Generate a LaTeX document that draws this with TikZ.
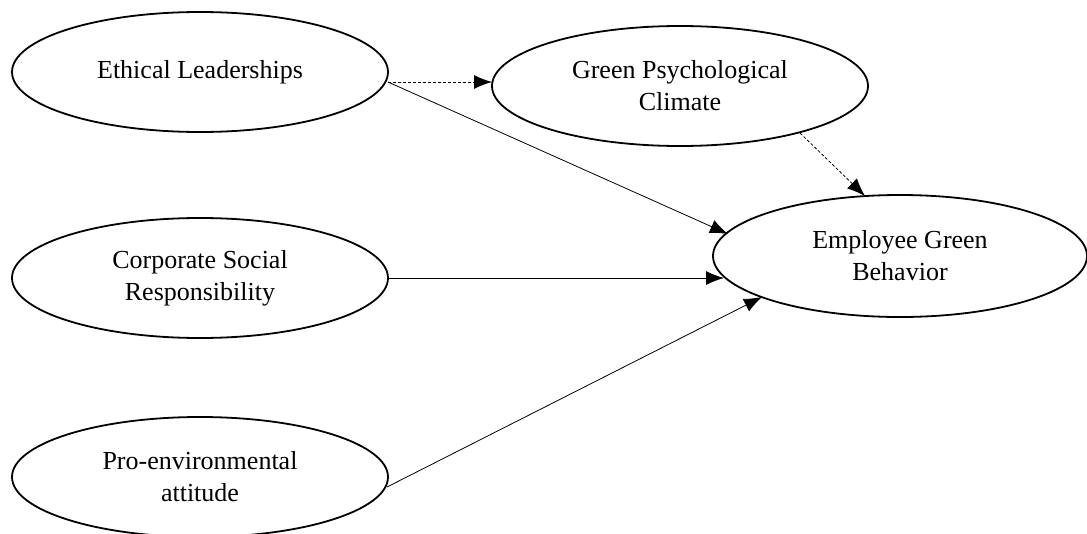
\documentclass[tikz,border=0pt]{standalone}
\usepackage{fontspec}
\setmainfont{Liberation Serif}
\usetikzlibrary{shapes.geometric,arrows.meta,calc}
\begin{document}
\begin{tikzpicture}[x=1pt,y=-1pt,
  constr/.style={ellipse,draw,line width=1.8pt,inner sep=0pt,
    minimum width=376pt,minimum height=120pt,align=center,
    font=\fontsize{26}{32}\selectfont},
  path/.style={line width=0.8pt,-{Latex[length=18pt,width=14pt]}},
  dpath/.style={path,dash pattern=on 3pt off 2pt}]
\useasboundingbox (0,0) rectangle (1087,533);
\node[constr] (eth) at (200,72) {Ethical Leaderships};
\node[constr] (gpc) at (680,86) {Green Psychological\\Climate};
\node[constr] (csr) at (200,278) {Corporate Social\\Responsibility};
\node[constr,minimum width=374pt,minimum height=122pt] (egb) at (900,256) {Employee Green\\Behavior};
\node[constr] (pro) at (200,477) {Pro-environmental\\attitude};
\coordinate (ethout) at ($(eth.center)+(188,10)$);
\draw[dpath] (ethout) -- ($(gpc.center)+(-188,-4)$);
\draw[dpath] ($(gpc.center)+(120,47)$) -- ($(egb.center)+(-35,-60)$);
\draw[path] (ethout) -- ($(egb.center)+(-172,-22)$);
\draw[path] (csr.east) -- ($(egb.center)+(-176,22)$);
\draw[path] ($(pro.center)+(187,10)$) -- ($(egb.center)+(-138,41)$);
\end{tikzpicture}
\end{document}
